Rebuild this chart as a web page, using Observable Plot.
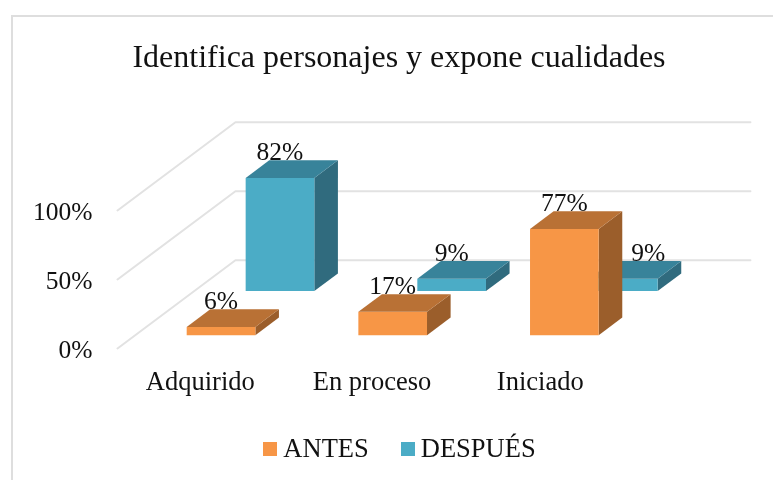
<!DOCTYPE html>
<html lang="es">
<head>
<meta charset="utf-8">
<script src="https://cdn.jsdelivr.net/npm/d3@7"></script>
<script src="https://cdn.jsdelivr.net/npm/@observablehq/plot@0.6"></script>
<style>
  html,body{margin:0;padding:0;background:#fff;}
  #chart{position:relative;width:773px;height:480px;overflow:hidden;font-family:"Liberation Serif",serif;color:#111;filter:blur(.35px);}
  #frame{position:absolute;left:11px;top:15px;width:800px;height:480px;border:2px solid #dedede;box-sizing:border-box;}
  #title{position:absolute;left:0;top:0;width:798px;height:90px;line-height:113px;text-align:center;font-size:32px;}
  #plot{position:absolute;left:0;top:90px;}
  #legend{position:absolute;left:0;top:400px;width:799px;height:80px;display:flex;justify-content:center;align-items:center;font-size:26.5px;padding-top:17px;box-sizing:border-box;}
  .sw{display:inline-block;width:14px;height:14px;margin-right:6px;}
  .it{display:flex;align-items:center;margin:0 16px;}
</style>
</head>
<body>
<div id="chart">
  <div id="frame"></div>
  <div id="title"></div>
  <div id="plot"></div>
  <div id="legend"></div>
</div>
<script>
const titleText = "Identifica personajes y expone cualidades";
const categories = ["Adquirido", "En proceso", "Iniciado"];
const seriesNames = ["ANTES", "DESPUÉS"];
const antes = [6, 17, 77];
const despues = [82, 9, 9];
const yTicks = [0, 50, 100];
// small horizontal label nudges, in category units
const despuesLabelShift = [0, 0, 0.145];
const categoryLabelShift = [0, 0, -0.02];
const colors = {
  ANTES:   {front: "#F79646", top: "#B97135", side: "#9B5E2B"},
  DESPUÉS: {front: "#4BACC6", top: "#38839A", side: "#306B7E"}
};

// 3-D oblique projection: category position k, depth d (0..1), value v (%)
const depthX = 0.687;   // category units per full depth
const depthY = 64;      // percent units per full depth
const px = (k, d) => k + d * depthX;
const py = (v, d) => v + d * depthY;

const barWidth = 0.4, barDepth = 0.2;
const depthStart = {ANTES: 0.15, "DESPUÉS": 0.65};

function faces(name, values) {
  const out = [];
  const d0 = depthStart[name], d1 = d0 + barDepth;
  values.forEach((v, i) => {
    const k0 = i + 0.5 - barWidth / 2, k1 = k0 + barWidth;
    const poly = (face, pts) => pts.forEach(([k, d, val]) =>
      out.push({id: `${name}-${i}-${face}`, fill: colors[name][face], x: px(k, d), y: py(val, d)}));
    poly("side", [[k1, d0, 0], [k1, d1, 0], [k1, d1, v], [k1, d0, v]]);
    poly("front", [[k0, d0, 0], [k1, d0, 0], [k1, d0, v], [k0, d0, v]]);
    poly("top", [[k0, d0, v], [k1, d0, v], [k1, d1, v], [k0, d1, v]]);
  });
  return out;
}

const grid = yTicks.flatMap(v => [
  {v, x: px(0, 0), y: py(v, 0)},
  {v, x: px(0, 1), y: py(v, 1)},
  {v, x: px(3, 1), y: py(v, 1)}
]);

const valueLabels = (name, values, shift) => values.map((v, i) => ({
  text: v + "%",
  x: px(i + 0.5 + (shift ? shift[i] : 0), depthStart[name]),
  y: py(v, depthStart[name] + barDepth)
}));

const faceMark = (name, values) => Plot.line(faces(name, values), {
  x: "x", y: "y", z: "id", fill: "fill", stroke: null, curve: "linear"
});

const plot = Plot.plot({
  width: 773,
  height: 310,
  margin: 0,
  x: {type: "linear", domain: [0, 3], range: [117, 632], axis: null},
  y: {type: "linear", domain: [0, 100], range: [258, 120], axis: null},
  marks: [
    Plot.line(grid, {x: "x", y: "y", z: "v", stroke: "#e2e2e2", strokeWidth: 2}),
    faceMark("DESPUÉS", despues),
    faceMark("ANTES", antes),
    Plot.text(valueLabels("DESPUÉS", despues, despuesLabelShift), {x: "x", y: "y", text: "text", dy: -8, fontSize: 25.5, fill: "#111"}),
    Plot.text(valueLabels("ANTES", antes), {x: "x", y: "y", text: "text", dy: -8, fontSize: 25.5, fill: "#111"}),
    Plot.text(yTicks, {x: () => 0, y: d => d, text: d => d + "%", textAnchor: "end", dx: -25, dy: 1, fontSize: 25.5, fill: "#111"}),
    Plot.text(categories, {x: (d, i) => i + 0.5 + categoryLabelShift[i], y: () => 0, text: d => d, dy: 33, dx: -3, fontSize: 26.5, fill: "#111"})
  ],
  style: {fontFamily: "'Liberation Serif', serif", background: "transparent", overflow: "visible"}
});
document.getElementById("plot").append(plot);
document.getElementById("title").textContent = titleText;

const legend = document.getElementById("legend");
seriesNames.forEach(name => {
  const it = document.createElement("span");
  it.className = "it";
  const sw = document.createElement("span");
  sw.className = "sw";
  sw.style.background = colors[name].front;
  it.append(sw, name);
  legend.append(it);
});
</script>
</body>
</html>
